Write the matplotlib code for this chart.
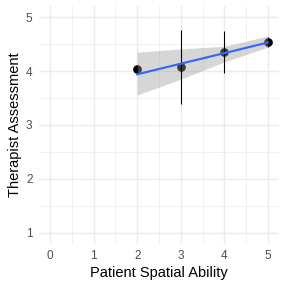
import numpy as np
import matplotlib
matplotlib.use("Agg")
import matplotlib.pyplot as plt

# mean therapist assessment per spatial ability level
ability = [2, 3, 4, 5]
assessment = [4.03, 4.07, 4.35, 4.54]
assessment_err = [0.07, 0.69, 0.385, 0.095]

# linear smooth with confidence band
fit_x = [2, 5]
fit_y = [3.94, 4.53]
band_x = [2, 3, 4, 5]
band_lo = [3.555, 3.85, 4.17, 4.445]
band_hi = [4.35, 4.41, 4.46, 4.65]

x_ticks = [0, 1, 2, 3, 4, 5]
y_ticks = [1, 2, 3, 4, 5]

plt.rcParams['font.family'] = ['Liberation Sans', 'DejaVu Sans']

fig = plt.figure(figsize=(3, 3), dpi=96)
ax = fig.add_axes([0.1358, 0.1545, 0.8326, 0.8233])

ax.plot(ability, assessment, 'o', color='black', ms=5.5, zorder=3)

xs = np.linspace(band_x[0], band_x[-1], 80)
ax.fill_between(xs, np.interp(xs, band_x, band_lo), np.interp(xs, band_x, band_hi),
                color='#999999', alpha=0.4, linewidth=0, zorder=4)

ax.errorbar(ability, assessment, yerr=assessment_err, fmt='none',
            ecolor='black', elinewidth=0.8, capsize=0, zorder=5)

ax.plot(fit_x, fit_y, color='#3366FF', lw=1.6, zorder=6)

ax.set_xlim(-0.25, 5.25)
ax.set_ylim(0.8, 5.2)
ax.set_xticks(x_ticks)
ax.set_yticks(y_ticks)
ax.set_xticks(np.arange(0.5, 5.5, 1), minor=True)
ax.set_yticks(np.arange(1.5, 5.0, 1), minor=True)

ax.grid(True, which='major', color='#EBEBEB', lw=1.07)
ax.grid(True, which='minor', color='#EBEBEB', lw=0.53)
ax.set_axisbelow(True)
for s in ax.spines.values():
    s.set_visible(False)
# ticks are hidden but ggplot still reserves their length
ax.tick_params(which='both', length=0)
ax.tick_params(which='major', labelsize=8.8, labelcolor='#4D4D4D', pad=4.95)

ax.set_xlabel("Patient Spatial Ability", fontsize=11, labelpad=2.75)
ax.set_ylabel("Therapist Assessment", fontsize=11, labelpad=2.75)

fig.savefig("out.png", dpi=96)
